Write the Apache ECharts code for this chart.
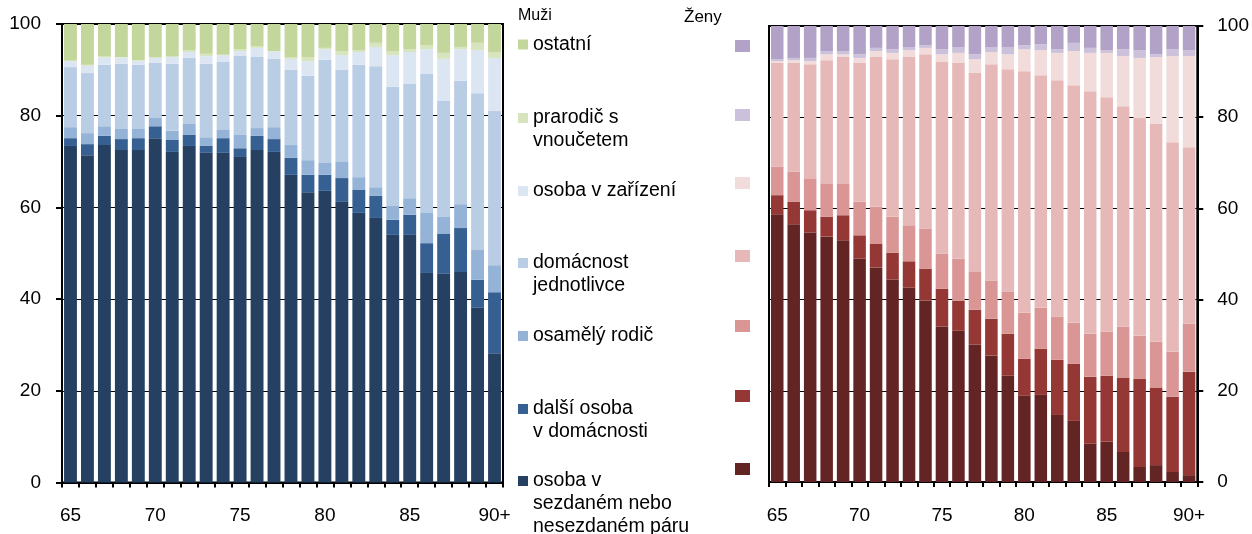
<!DOCTYPE html>
<html>
<head>
<meta charset="utf-8">
<script src="https://cdn.jsdelivr.net/npm/echarts@6/dist/echarts.min.js"></script>
<style>
html,body{margin:0;padding:0;background:#fff;}
#chart{width:1252px;height:534px;}
</style>
</head>
<body>
<div id="chart"></div>
<script>
var categories = ['65','66','67','68','69','70','71','72','73','74','75','76','77','78','79','80','81','82','83','84','85','86','87','88','89','90+'];

// Series names (legend order, top to bottom)
var seriesNames = ['ostatní','prarodič s vnoučetem','osoba v zařízení','domácnost jednotlivce','osamělý rodič','další osoba v domácnosti','osoba v sezdaném nebo nesezdaném páru'];
var legendLabels = ['ostatní','prarodič s\nvnoučetem','osoba v zařízení','domácnost\njednotlivce','osamělý rodič','další osoba\nv domácnosti','osoba v\nsezdaném nebo\nnesezdaném páru'];

// Muži (men) – shares in %
var menPar      = [73.4,71.4,73.6,72.5,72.5,75.1,72.1,73.4,71.9,71.9,71.0,72.5,72.1,67.1,63.3,63.6,61.2,58.8,57.7,54.0,54.0,45.7,45.5,45.9,38.1,28.2];
var menDalsi    = [1.7,2.4,2.0,2.4,2.6,2.6,2.6,2.4,1.5,3.2,1.9,3.1,2.8,3.7,3.8,3.5,5.2,5.0,4.8,3.3,4.4,6.5,8.7,9.6,6.1,13.3];
var menRodic    = [2.4,2.4,2.1,2.2,2.0,1.8,2.0,2.4,1.9,1.8,2.9,1.7,2.6,2.8,3.2,2.6,3.5,2.8,1.9,3.0,3.6,6.6,3.7,5.2,6.5,5.9];
var menJedn     = [13.1,13.1,13.4,14.2,14.0,12.0,14.6,14.4,16.0,14.8,17.2,15.5,14.9,16.4,18.4,22.5,20.1,24.5,26.4,26.0,24.9,30.3,25.3,26.9,34.2,33.6];
var menZariz    = [1.3,1.6,1.6,1.4,0.9,1.1,1.5,1.3,1.7,1.5,1.1,2.0,1.6,2.4,3.2,2.3,3.2,2.8,4.2,6.9,7.0,5.4,9.2,6.9,9.4,11.6];
var menPrarod   = [0.1,0.2,0.2,0.1,0.1,0.2,0.2,0.4,0.5,0.1,0.4,0.4,0.1,0.4,0.9,0.3,0.9,0.4,0.9,0.9,0.6,0.9,1.3,0.5,1.6,1.3];
var menOstatni  = [8.0,8.9,7.1,7.2,7.9,7.2,7.0,5.7,6.5,6.7,5.5,4.8,5.9,7.2,7.2,5.2,5.9,5.7,4.1,5.9,5.5,4.6,6.3,5.0,4.1,6.1];

// Ženy (women) – shares in %
var womPar      = [58.7,56.5,54.7,53.8,53.0,49.0,47.0,44.4,42.6,39.8,34.1,33.2,30.1,27.7,23.3,18.9,19.1,14.7,13.4,8.4,8.8,6.6,3.3,3.7,2.2,1.5];
var womDalsi    = [4.2,5.0,4.9,4.4,5.5,5.1,5.3,5.9,5.8,7.0,8.3,6.6,7.7,8.1,9.2,8.1,10.1,12.1,12.5,14.7,14.5,16.3,19.3,17.0,16.5,22.7];
var womRodic    = [6.3,6.6,7.0,7.3,7.0,7.4,8.1,7.9,7.9,8.8,7.7,9.2,8.4,8.4,9.3,10.1,9.0,9.5,9.0,9.4,9.7,11.2,9.5,10.1,9.9,10.5];
var womJedn     = [22.7,23.8,25.0,27.0,27.7,30.4,32.8,34.5,36.9,38.2,42.0,42.9,43.5,47.4,48.7,53.0,51.0,51.8,52.1,53.2,51.4,48.3,47.7,47.7,45.9,38.7];
var womZariz    = [0.4,0.6,0.7,1.3,0.6,1.1,1.3,1.4,1.5,1.4,1.7,2.2,3.0,2.7,3.3,4.8,5.5,6.0,7.5,8.4,9.7,11.0,13.2,14.7,18.9,20.0];
var womPrarod   = [0.4,0.5,0.7,0.7,0.7,0.8,0.7,0.8,0.7,0.6,1.1,1.3,1.1,1.1,1.6,0.9,1.3,0.8,1.8,1.1,0.6,1.5,1.7,0.6,1.5,1.3];
var womOstatni  = [7.3,7.0,7.0,5.5,5.5,6.2,4.8,5.1,4.6,4.2,5.1,4.6,6.2,4.6,4.6,4.2,4.0,5.1,3.7,4.8,5.3,5.1,5.3,6.2,5.1,5.3];

var yTicks = [0,20,40,60,80,100];

var menColors = ['#c3d69b','#d7e4bd','#dce6f2','#b9cde5','#95b3d7','#376092','#254061'];
var womColors = ['#b3a2c7','#ccc1da','#f2dcdb','#e6b9b8','#d99694','#953735','#632523'];

var menData = [menOstatni, menPrarod, menZariz, menJedn, menRodic, menDalsi, menPar];
var womData = [womOstatni, womPrarod, womZariz, womJedn, womRodic, womDalsi, womPar];

var FONT = '"Liberation Sans", Arial, Helvetica, sans-serif';

var chart = echarts.init(document.getElementById('chart'), null, {renderer:'canvas'});

function xAxisFor(gi){
  return {
    type:'category', gridIndex:gi, data:categories,
    axisLine:{show:true, lineStyle:{color:'#000', width:2}},
    axisTick:{show:true, interval:0, length:5, lineStyle:{color:'#000', width:2}},
    axisLabel:{interval:4, margin:24, color:'#000', fontSize:19, fontFamily:FONT},
    splitLine:{show:false}
  };
}
function yAxisFor(gi, pos, margin){
  return {
    type:'value', gridIndex:gi, position:pos, min:0, max:100, interval:20,
    axisLine:{show:true, lineStyle:{color:'#000', width:2}},
    axisTick:{show:true, length:6, lineStyle:{color:'#000', width:2}},
    axisLabel:{margin:margin, color:'#000', fontSize:19, fontFamily:FONT,
      formatter:function(v){ return yTicks.indexOf(v) >= 0 ? String(v) : ''; }},
    splitLine:{show:true, lineStyle:{color:'#000', width:1}}
  };
}

var series = [];
// stacking: bottom first
for (var k = 6; k >= 0; k--) {
  series.push({
    name: seriesNames[k], type:'bar', stack:'men', xAxisIndex:0, yAxisIndex:0,
    data: menData[k], barCategoryGap:'24%', itemStyle:{color:menColors[k]}, silent:true
  });
}
for (var k2 = 6; k2 >= 0; k2--) {
  series.push({
    name: 'Ženy: ' + seriesNames[k2], type:'bar', stack:'wom', xAxisIndex:1, yAxisIndex:1,
    data: womData[k2], barCategoryGap:'24%', itemStyle:{color:womColors[k2]}, silent:true
  });
}

// Legends: one per item so each square lands where the reference has it
var LH = 23;
var menCenters = [44.5, 118, 191, 263, 336, 409, 481];
var womCenters = [46, 115, 183, 256, 326, 396, 469];
var legends = [];
for (var i = 0; i < 7; i++) {
  var lines = legendLabels[i].split('\n').length;
  var prefix = new Array(lines).join('\n');
  (function(lbl, pre){
    legends.push({
      data:[seriesNames[i]], left:518, top: menCenters[i] - (2*lines-1)*LH/2,
      orient:'vertical', padding:0, icon:'rect', itemWidth:10, itemHeight:10,
      selectedMode:false,
      formatter:function(){ return pre + lbl; },
      textStyle:{color:'#000', fontSize:19.5, lineHeight:LH, fontFamily:FONT}
    });
  })(legendLabels[i], prefix);
  legends.push({
    data:['Ženy: ' + seriesNames[i]], left:735, top: womCenters[i] - 6,
    orient:'vertical', padding:0, icon:'rect', itemWidth:15, itemHeight:12,
    selectedMode:false,
    formatter:function(){ return ''; },
    textStyle:{color:'#000', fontSize:10, lineHeight:12, fontFamily:FONT}
  });
}

chart.setOption({
  animation:false,
  backgroundColor:'#fff',
  textStyle:{fontFamily:FONT},
  title:[
    {text:'Muži', left:518, top:8, padding:0, textStyle:{fontSize:16, fontWeight:'normal', color:'#000', fontFamily:FONT}},
    {text:'Ženy', left:684, top:9, padding:0, textStyle:{fontSize:17, fontWeight:'normal', color:'#000', fontFamily:FONT}}
  ],
  legend: legends,
  grid:[
    {left:62, top:24, width:441, height:458.5, show:true, borderColor:'#000', borderWidth:2, containLabel:false},
    {left:769, top:26, width:429, height:456, show:true, borderColor:'#000', borderWidth:2, containLabel:false}
  ],
  xAxis:[xAxisFor(0), xAxisFor(1)],
  yAxis:[yAxisFor(0,'left',21), yAxisFor(1,'right',20)],
  series: series
});
</script>
</body>
</html>
